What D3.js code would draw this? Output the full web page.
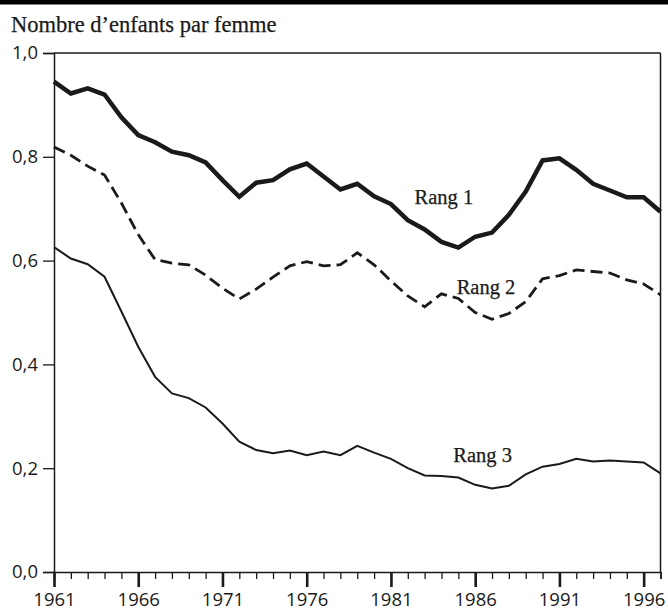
<!DOCTYPE html>
<html><head><meta charset="utf-8">
<script src="https://cdn.jsdelivr.net/npm/d3@7"></script>
<style>html,body{margin:0;padding:0;background:#fff;}</style>
</head><body>
<svg id="chart" width="668" height="610"></svg>
<script>
const years = d3.range(1961, 1998);
const rang1 = [0.945,0.922,0.932,0.920,0.876,0.842,0.828,0.810,0.803,0.789,0.755,0.723,0.750,0.755,0.776,0.787,0.762,0.737,0.748,0.724,0.709,0.678,0.660,0.636,0.625,0.646,0.654,0.688,0.733,0.793,0.797,0.775,0.748,0.735,0.722,0.722,0.694];
const rang2 = [0.819,0.803,0.782,0.765,0.711,0.650,0.602,0.595,0.592,0.572,0.547,0.526,0.545,0.568,0.590,0.598,0.590,0.592,0.615,0.592,0.561,0.532,0.511,0.536,0.527,0.500,0.487,0.498,0.521,0.565,0.571,0.582,0.579,0.576,0.563,0.555,0.534];
const rang3 = [0.626,0.604,0.593,0.569,0.502,0.434,0.376,0.344,0.335,0.317,0.286,0.251,0.235,0.229,0.234,0.225,0.232,0.225,0.243,0.230,0.218,0.200,0.186,0.185,0.182,0.168,0.161,0.166,0.188,0.203,0.208,0.218,0.213,0.215,0.213,0.211,0.190];
const yTicks = [0, 0.2, 0.4, 0.6, 0.8, 1.0];
const xLabelYears = [1961, 1966, 1971, 1976, 1981, 1986, 1991, 1996];
const seriesLabels = ["Rang 1", "Rang 2", "Rang 3"];
const title = "Nombre d\u2019enfants par femme";

const svg = d3.select("#chart");
const ink = "#1a1a1a";
const serif = "'Liberation Serif','Times New Roman',serif";
const sans = "'Open Sans','Noto Sans',sans-serif";

const x = d3.scaleLinear().domain([1961, 1997]).range([54, 660.5]);
const y = d3.scaleLinear().domain([0, 1]).range([572, 53]);

// top black bar
svg.append("rect").attr("x", 0).attr("y", 0).attr("width", 668).attr("height", 4.5).attr("fill", "#000");

svg.append("text").attr("x", 11).attr("y", 32).attr("font-family", serif).attr("font-size", 22.5)
  .attr("fill", ink).attr("stroke", ink).attr("stroke-width", 0.25).text(title);

// frame top & right
svg.append("line").attr("x1", x(1961)).attr("x2", x(1997)).attr("y1", y(1)).attr("y2", y(1))
  .attr("stroke", ink).attr("stroke-width", 1.5);
svg.append("line").attr("x1", x(1997)).attr("x2", x(1997)).attr("y1", y(1)).attr("y2", y(0))
  .attr("stroke", ink).attr("stroke-width", 1.5);

const loc = d3.formatLocale({decimal: ",", thousands: " ", grouping: [3], currency: ["", "€"]});
const fmt = loc.format(".1f");

// y axis
const yAxis = svg.append("g").attr("transform", `translate(${x(1961)},0)`)
  .call(d3.axisLeft(y).tickValues(yTicks).tickSize(11).tickPadding(5).tickFormat(fmt));
yAxis.select(".domain").attr("stroke", ink).attr("stroke-width", 1.5);
yAxis.selectAll(".tick line").attr("stroke", ink).attr("stroke-width", 1.3);
yAxis.selectAll(".tick text").attr("font-family", sans).attr("font-size", 18.5).attr("fill", ink);

// x minor ticks
const xMinor = svg.append("g").attr("transform", `translate(0,${y(0)})`)
  .call(d3.axisBottom(x).tickValues(years).tickSize(7).tickFormat(""));
xMinor.select(".domain").attr("stroke", ink).attr("stroke-width", 1.5);
xMinor.selectAll(".tick line").attr("stroke", ink).attr("stroke-width", 1.3);

// x major ticks with labels
const xMajor = svg.append("g").attr("transform", `translate(0,${y(0)})`)
  .call(d3.axisBottom(x).tickValues(xLabelYears).tickSize(15).tickPadding(6).tickFormat(d3.format("d")));
xMajor.select(".domain").remove();
xMajor.selectAll(".tick line").attr("stroke", ink).attr("stroke-width", 2.6);
xMajor.selectAll(".tick text").attr("font-family", sans).attr("font-size", 18.5).attr("fill", ink);

const line = d3.line().x((d, i) => x(years[i])).y(d => y(d));

svg.append("path").datum(rang1).attr("d", line).attr("fill", "none").attr("stroke", ink)
  .attr("stroke-width", 4.5).attr("stroke-linejoin", "miter");
svg.append("path").datum(rang2).attr("d", line).attr("fill", "none").attr("stroke", ink)
  .attr("stroke-width", 2.8).attr("stroke-dasharray", "12,6");
svg.append("path").datum(rang3).attr("d", line).attr("fill", "none").attr("stroke", ink)
  .attr("stroke-width", 2);

// series labels
const labelPos = [[1982.4, 0.71], [1984.9, 0.535], [1984.7, 0.212]];
seriesLabels.forEach((t, i) => {
  svg.append("text").attr("x", x(labelPos[i][0])).attr("y", y(labelPos[i][1]))
    .attr("font-family", serif).attr("font-size", 20.5).attr("fill", ink)
    .attr("stroke", ink).attr("stroke-width", 0.25).text(t);
});
</script>
</body></html>
